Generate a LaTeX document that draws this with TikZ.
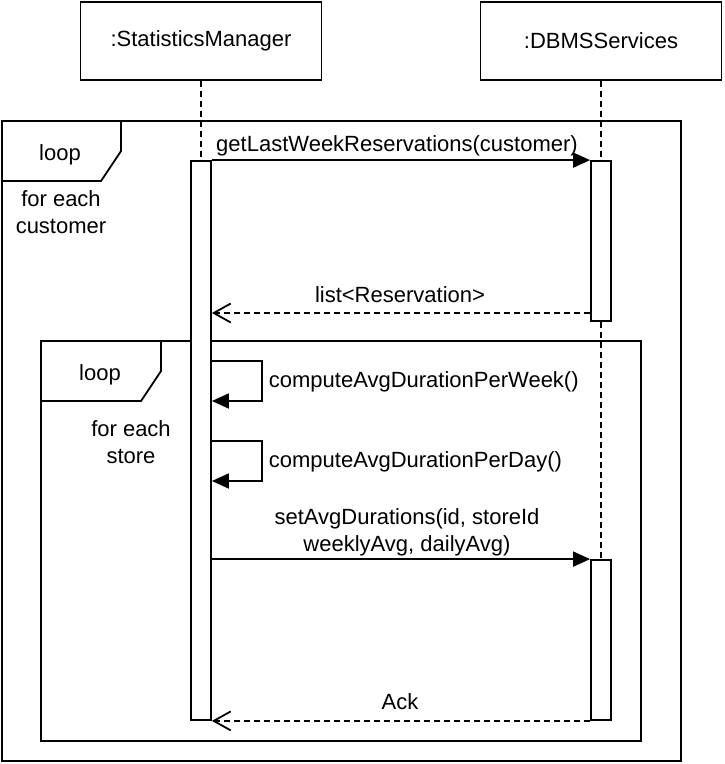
\documentclass[tikz,border=0pt]{standalone}
\usepackage{fontspec}
\setmainfont{Liberation Sans}
\usetikzlibrary{positioning,arrows.meta}

\begin{document}
\begin{tikzpicture}[x=1pt,y=-1pt,line width=1.8pt,
  every node/.style={font=\fontsize{22}{27}\selectfont,inner sep=0pt},
  party/.style={draw,minimum width=241pt,minimum height=78pt},
  actbar/.style={draw,fill=white,minimum width=20pt},
  msg/.style={-{Triangle[length=17pt,width=15pt]}},
  reply/.style={dash pattern=on 6pt off 4pt,-{Straight Barb[length=17pt,width=19pt]}},
  lifeline/.style={dash pattern=on 6pt off 4pt}]
  \useasboundingbox (0,0) rectangle (724,764);

  % loop frames
  \draw (2,121) rectangle (681,761);
  \draw (2,181) -- (101,181) -- (121,151) -- (121,121);
  \node[anchor=base] (loopA) at (60,160) {loop};
  \node[anchor=base,align=center] (condA) at (61,233) {for each\\customer};

  \draw (41,341) rectangle (641,741);
  \draw (41,401) -- (141,401) -- (161,371) -- (161,341);
  \node[anchor=base] (loopB) at (100,380) {loop};
  \node[anchor=base,align=center] (condB) at (131,463) {for each\\store};

  % participants and lifelines
  \node[party] (sm) at (201,41) {:StatisticsManager};
  \node[party] (db) at (601,41) {:DBMSServices};

  \node[actbar,minimum height=559pt] (a1) at (201,440.5) {};
  \node[actbar,minimum height=160pt] (b1) at (601,241) {};
  \node[actbar,minimum height=160pt] (b2) at (601,640) {};

  \draw[lifeline] (sm) -- (a1);
  \draw[lifeline] (db) -- (b1);
  \draw[lifeline] (b1) -- (b2);
  \node[actbar,minimum height=559pt] at (a1) {};
  \node[actbar,minimum height=160pt] at (b1) {};
  \node[actbar,minimum height=160pt] at (b2) {};

  % messages
  \draw[msg] (a1.north east) -- (b1.north west);
  \node[anchor=base] (m1) at (397,151) {getLastWeekReservations(customer)};

  \draw[reply] (b1.west |- 0,313) -- (a1.east |- 0,313);
  \node[anchor=base] (m2) at (400,302) {list<Reservation>};

  \foreach \y/\name in {361/{computeAvgDurationPerWeek()},441/{computeAvgDurationPerDay()}}{
    \draw[msg] (a1.east |- 0,\y) -- ++(50,0) -- ++(0,40) -- ++(-50,0);
    \node[anchor=base west] (self\y) at (268,\y+26) {\name};
  }

  \draw[msg] (a1.east |- b2.north) -- (b2.north west);
  \node[anchor=base,align=center] (m3) at (407,551) {setAvgDurations(id, storeId\\weeklyAvg, dailyAvg)};

  \draw[reply] (b2.south west) -- (a1.south east);
  \node[anchor=base] (m4) at (400,709) {Ack};
\end{tikzpicture}
\end{document}
